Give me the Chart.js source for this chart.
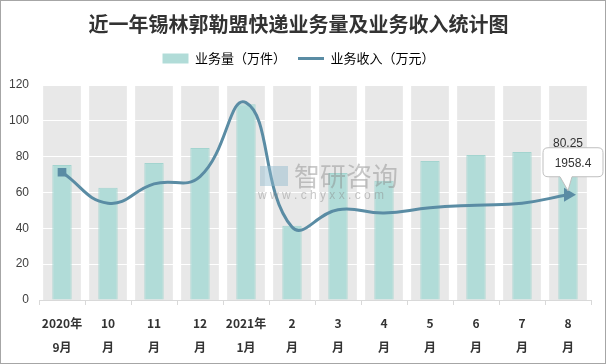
<!DOCTYPE html>
<html lang="zh">
<head>
<meta charset="UTF-8">
<title>近一年锡林郭勒盟快递业务量及业务收入统计图</title>
<script src="https://cdn.jsdelivr.net/npm/chart.js"></script>
<style>
    body { margin: 0; background: #fff; }
    canvas { display: block; }
</style>
</head>
<body>
<canvas id="chart" width="606" height="364"></canvas>
<script>
    const categories = [['2020年', '9月'], ['10', '月'], ['11', '月'], ['12', '月'], ['2021年', '1月'],
        ['2', '月'], ['3', '月'], ['4', '月'], ['5', '月'], ['6', '月'], ['7', '月'], ['8', '月']];
    const volume = [75.4, 62.6, 76.5, 84.8, 109.3, 41.5, 70.9, 66.5, 77.6, 81.0, 82.6, 80.25];   // 业务量（万件）
    const revenue = [2376, 1802, 2161, 2296, 3673, 1357, 1680, 1617, 1716, 1765, 1802, 1958.4]; // 业务收入（万元）
    const yTicks = [0, 20, 40, 60, 80, 100, 120];

    const barColor = '#b1dcd8';
    const lineColor = '#5a8ca4';
    const font = '"Noto Sans CJK SC", "Liberation Sans", sans-serif';

    // grey column bands behind each month
    const bands = {
        id: 'bands',
        beforeLayout(chart) {
            // leave some extra room under the legend
            const lg = chart.legend;
            if (lg && !lg._patched) {
                const fit = lg.fit;
                lg.fit = function () { fit.call(this); this.height += 10; };
                lg._patched = true;
            }
        },
        beforeDraw(chart) {
            const { ctx, scales: { x, y } } = chart;
            const step = x.getPixelForValue(1) - x.getPixelForValue(0);
            const w = step * 0.82;
            const top = y.getPixelForValue(yTicks[yTicks.length - 1]);
            const bottom = y.getPixelForValue(0);
            ctx.save();
            ctx.fillStyle = '#e8e8e8';
            categories.forEach((c, i) => {
                ctx.fillRect(x.getPixelForValue(i) - w / 2, top, w, bottom - top);
            });
            ctx.restore();
        }
    };

    // last-point labels, watermark and frame
    const extras = {
        id: 'extras',
        afterDatasetsDraw(chart) {
            const { ctx } = chart;
            const last = volume.length - 1;
            const bar = chart.getDatasetMeta(0).data[last];
            const pt = chart.getDatasetMeta(1).data[last];
            ctx.save();
            ctx.font = '12px "Liberation Sans", sans-serif';
            ctx.fillStyle = '#333';
            ctx.textAlign = 'center';
            ctx.textBaseline = 'middle';
            ctx.fillText(String(volume[last]), bar.x, bar.y - 13);

            // callout box
            const bx = pt.x - 25, by = pt.y - 47, bw = 60, bh = 29, r = 5;
            ctx.beginPath();
            ctx.moveTo(bx + r, by);
            ctx.lineTo(bx + bw - r, by);
            ctx.quadraticCurveTo(bx + bw, by, bx + bw, by + r);
            ctx.lineTo(bx + bw, by + bh - r);
            ctx.quadraticCurveTo(bx + bw, by + bh, bx + bw - r, by + bh);
            ctx.lineTo(pt.x + 4, by + bh);
            ctx.lineTo(pt.x, pt.y - 4);
            ctx.lineTo(pt.x - 8, by + bh);
            ctx.lineTo(bx + r, by + bh);
            ctx.quadraticCurveTo(bx, by + bh, bx, by + bh - r);
            ctx.lineTo(bx, by + r);
            ctx.quadraticCurveTo(bx, by, bx + r, by);
            ctx.closePath();
            ctx.fillStyle = '#fff';
            ctx.fill();
            ctx.strokeStyle = '#bfbfbf';
            ctx.lineWidth = 1;
            ctx.stroke();
            ctx.fillStyle = '#333';
            ctx.fillText(String(revenue[last]), bx + bw / 2, by + bh / 2 + 1);
            ctx.restore();
        },
        afterDraw(chart) {
            const { ctx } = chart;
            ctx.save();
            // watermark
            ctx.globalAlpha = 0.45;
            ctx.fillStyle = '#8fb8cc';
            ctx.fillRect(260, 166, 28, 20);
            ctx.fillStyle = '#888';
            ctx.font = '26px ' + font;
            ctx.textBaseline = 'middle';
            ctx.fillText('智研咨询', 294, 176);
            ctx.font = '12px "Liberation Sans", sans-serif';
            ctx.fillText('w w w . c h y x x . c o m', 258, 196);
            ctx.globalAlpha = 1;
            // frame
            ctx.strokeStyle = '#a6a6a6';
            ctx.lineWidth = 1;
            ctx.strokeRect(0.5, 0.5, chart.width - 1, chart.height - 1);
            ctx.restore();
        }
    };

    new Chart(document.getElementById('chart'), {
        data: {
            labels: categories,
            datasets: [{
                type: 'bar',
                label: '业务量（万件）',
                data: volume,
                backgroundColor: barColor,
                borderColor: '#a3d4cf',
                borderWidth: 1,
                barPercentage: 0.42,
                categoryPercentage: 1,
                yAxisID: 'y',
                order: 2
            }, {
                type: 'line',
                label: '业务收入（万元）',
                data: revenue,
                borderColor: lineColor,
                backgroundColor: lineColor,
                borderWidth: 3,
                tension: 0.45,
                fill: false,
                pointRadius: revenue.map((v, i) => i === 0 ? 4 : (i === revenue.length - 1 ? 5 : 0)),
                pointStyle: revenue.map((v, i) => i === revenue.length - 1 ? 'triangle' : 'rect'),
                pointRotation: revenue.map((v, i) => i === revenue.length - 1 ? 90 : 0),
                yAxisID: 'y1',
                order: 1
            }]
        },
        options: {
            responsive: false,
            animation: false,
            layout: { padding: { left: 6, right: 15, top: 0, bottom: 0 } },
            plugins: {
                title: {
                    display: true,
                    text: '近一年锡林郭勒盟快递业务量及业务收入统计图',
                    color: '#333',
                    font: { family: font, size: 20, weight: 'bold' },
                    padding: { top: 12, bottom: 4 }
                },
                legend: {
                    labels: {
                        usePointStyle: true,
                        pointStyleWidth: 26,
                        boxHeight: 10,
                        padding: 12,
                        color: '#404040',
                        font: { family: font, size: 13 },
                        generateLabels: () => [
                            { text: '业务量（万件）', fillStyle: barColor, strokeStyle: barColor, lineWidth: 0, pointStyle: 'rect', datasetIndex: 0 },
                            { text: '业务收入（万元）', fillStyle: lineColor, strokeStyle: lineColor, lineWidth: 3, pointStyle: 'line', datasetIndex: 1 }
                        ]
                    }
                },
                tooltip: { enabled: false }
            },
            scales: {
                x: {
                    grid: { offset: true, drawOnChartArea: false, tickLength: 5, color: '#d9d9d9' },
                    border: { color: '#d9d9d9' },
                    ticks: {
                        color: '#333',
                        padding: 6,
                        maxRotation: 0,
                        autoSkip: false,
                        font: { family: font, size: 12, weight: 'bold', lineHeight: 2 }
                    },
                    afterFit: (s) => { s.height = 64; }
                },
                y: {
                    min: 0,
                    max: 120,
                    afterBuildTicks: (s) => { s.ticks = yTicks.map(v => ({ value: v })); },
                    grid: { color: '#ffffff', lineWidth: 1, drawTicks: false },
                    border: { display: false },
                    ticks: { color: '#404040', padding: 10, font: { family: '"Liberation Sans", sans-serif', size: 12 } },
                    afterFit: (s) => { s.width = 33; }
                },
                y1: {
                    display: false,
                    min: 0,
                    max: 4000
                }
            }
        },
        plugins: [bands, extras]
    });
</script>
</body>
</html>
